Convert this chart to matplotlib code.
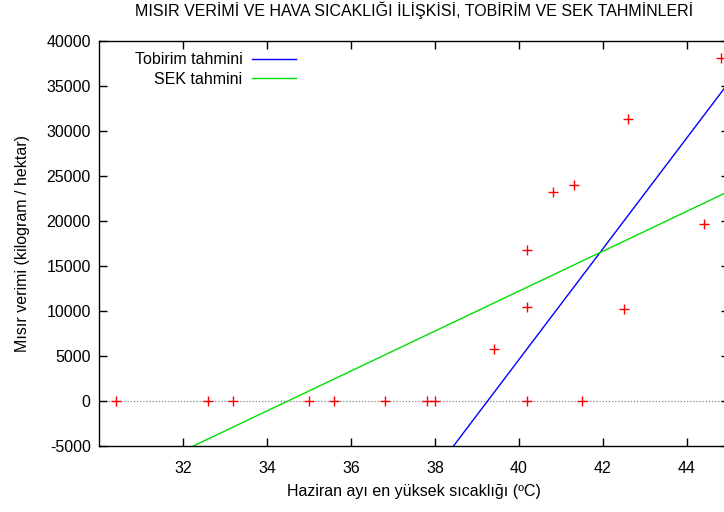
import matplotlib
matplotlib.use("Agg")
import matplotlib.pyplot as plt
import numpy as np

plt.rcParams['font.family'] = ['Liberation Sans', 'DejaVu Sans']
plt.rcParams['axes.unicode_minus'] = False

# scatter data: June max temperature vs corn yield
temp = [30.4, 32.6, 33.2, 35.0, 35.6, 36.8, 37.8, 38.0, 39.4, 40.2, 40.2, 40.2,
        40.8, 41.3, 41.5, 42.5, 42.6, 44.4, 44.8]
yield_kg = [0, 0, 0, 0, 0, 0, 0, 0, 5700, 0, 10400, 16800,
            23200, 24000, 0, 10200, 31300, 19600, 38100]

# fitted lines: slope, intercept
tobirim_coef = [6170, -242234]
sek_coef = [2222, -76703]

x_range = [30, 45]
y_range = [-5000, 40000]
xticks = [32, 34, 36, 38, 40, 42, 44]
yticks = list(range(-5000, 40001, 5000))

FS = 11.5

fig = plt.figure(figsize=(7.24, 5.12), dpi=100)
ax = fig.add_axes([99 / 724, 1 - 445.5 / 512, 630 / 724, 404.5 / 512])

ax.axhline(0, color='#808080', lw=0.9, ls=(0, (1, 1.5)), zorder=1)

ax.plot(temp, yield_kg, ls='none', marker='+', color='red', ms=6.5, mew=1, zorder=3)

xs = np.array(x_range)
ax.plot(xs, tobirim_coef[0] * xs + tobirim_coef[1], color='#0000ff', lw=1, label='Tobirim tahmini')
ax.plot(xs, sek_coef[0] * xs + sek_coef[1], color='#00e000', lw=1, label='SEK tahmini')

ax.set_xlim(x_range)
ax.set_ylim(y_range)
ax.set_xticks(xticks)
ax.set_yticks(yticks)
ax.tick_params(direction='in', length=6, width=1, top=True, right=True, labelsize=FS)
ax.tick_params(axis='x', pad=11)
ax.tick_params(axis='y', pad=6)
for s in ax.spines.values():
    s.set_linewidth(1)

ax.set_title('MISIR VERİMİ VE HAVA SICAKLIĞI İLİŞKİSİ, TOBİRİM VE SEK TAHMİNLERİ', fontsize=FS, pad=18)
ax.set_xlabel('Haziran ayı en yüksek sıcaklığı (ºC)', fontsize=FS, labelpad=6)
ax.set_ylabel('Mısır verimi (kilogram / hektar)', fontsize=FS, labelpad=12)

ax.legend(loc='upper right', frameon=False, markerfirst=False, fontsize=FS,
          handlelength=2.75, handletextpad=0.6, labelspacing=0.3, borderpad=0,
          bbox_to_anchor=(205 / 630, 0.992))

fig.savefig('out.png', dpi=100)
